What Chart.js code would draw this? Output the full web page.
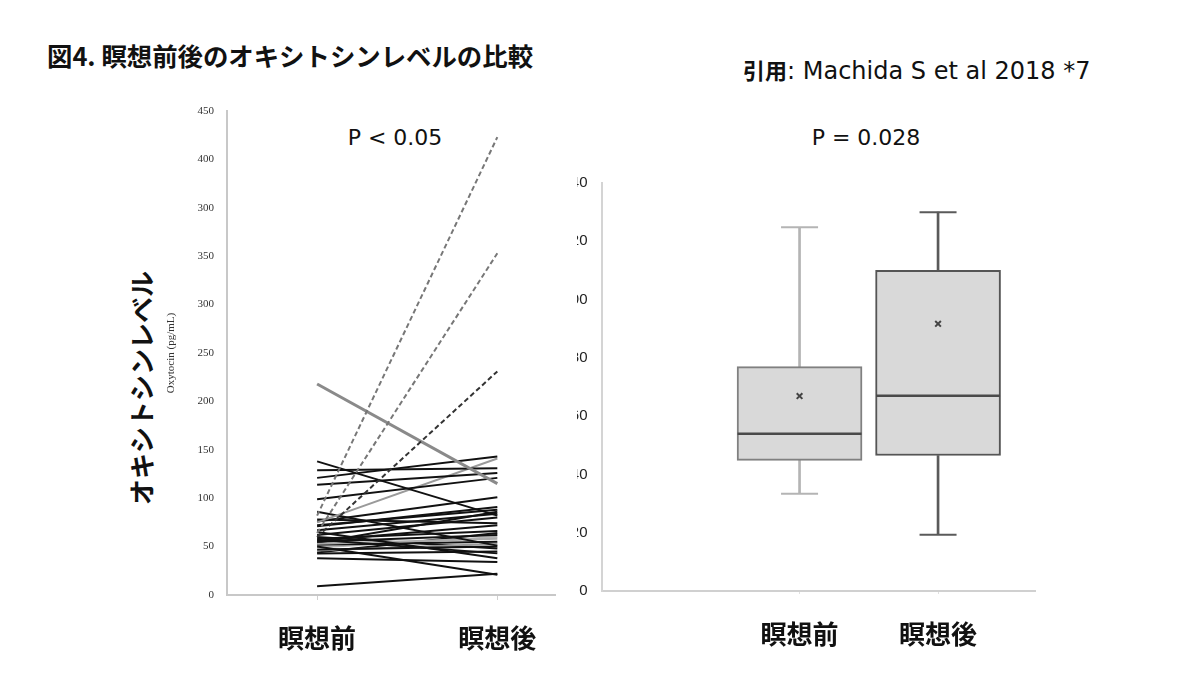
<!DOCTYPE html>
<html>
<head>
<meta charset="utf-8">
<script src="https://cdn.jsdelivr.net/npm/chart.js@4.4.0/dist/chart.umd.min.js"></script>
<style>
  body { margin: 0; background: #fff; width: 1200px; height: 699px; overflow: hidden; position: relative;
         font-family: "Noto Sans CJK JP", "Noto Sans", sans-serif; color: #111; }
  .txt { position: absolute; white-space: nowrap; }
  #left { position: absolute; left: 0; top: 0; }
  #rightWrap { position: absolute; left: 577px; top: 0; width: 623px; height: 699px; overflow: hidden; }
  #right { position: absolute; left: -40px; top: 0; }
</style>
</head>
<body>
<div class="txt" style="left:47px;top:37px;font-size:25.4px;font-weight:bold;">図4. 瞑想前後のオキシトシンレベルの比較</div>
<div class="txt" style="left:743px;top:53px;font-size:24px;font-family:'DejaVu Sans','Noto Sans CJK JP',sans-serif;"><span style="font-family:'Noto Sans CJK JP';font-weight:bold;font-size:22px;">引用</span>: Machida S et al 2018 *7</div>
<div class="txt" style="left:140px;top:388px;font-size:26px;font-weight:bold;transform:translate(-50%,-50%) rotate(-90deg);">オキシトシンレベル</div>
<div class="txt" style="left:395px;top:137px;font-size:22px;font-family:'DejaVu Sans',sans-serif;transform:translate(-50%,-50%);">P &lt; 0.05</div>
<div class="txt" style="left:866px;top:137px;font-size:22px;font-family:'DejaVu Sans',sans-serif;transform:translate(-50%,-50%);">P = 0.028</div>

<canvas id="left" width="570" height="699"></canvas>
<div id="rightWrap"><canvas id="right" width="663" height="699"></canvas></div>

<script>
// categories
const categories = ["瞑想前", "瞑想後"];

// left panel: individual oxytocin values (pg/mL), before / after meditation
const preValues = [82, 64, 60, 218, 138, 121, 129, 114, 99, 75, 86, 76, 71, 67, 65, 57, 50, 9,
                   38, 43, 78, 72, 62, 58, 55, 53, 52, 49, 47, 46, 56, 60, 54, 44];
const postValues = [473, 353, 231, 115, 82, 143, 131, 126, 121, 141, 51, 101, 91, 84, 38, 43, 21, 22,
                    34, 45, 74, 88, 80, 66, 62, 58, 55, 60, 50, 53, 72, 48, 86, 64];
// tick labels as printed on the left axis
const leftTickLabels = ["0", "50", "100", "150", "200", "250", "300", "350", "300", "400", "450"];

// right panel: box plot summary
const whiskerLow = [33.4, 19.3];
const q1Values = [44.8, 46.5];
const medianValues = [54, 67];
const q3Values = [77, 110];
const whiskerHigh = [124.8, 130];
const meanValues = [66.9, 91.7];
const rightTickLabels = ["0", "20", "40", "60", "80", "100", "120", "140"];

// line styles for the left panel
const dashedLines = [0, 1, 2];
const greyLines = { 3: "#8a8a8a", 9: "#9a9a9a", 25: "#aaaaaa", 27: "#b5b5b5", 29: "#9a9a9a" };

const xLabelFont = { family: "'Noto Sans CJK JP', sans-serif", size: 26, weight: "bold" };

const lineSets = preValues.map((pre, i) => ({
  data: [{ x: 1, y: pre }, { x: 2, y: postValues[i] }],
  borderColor: dashedLines.includes(i) ? (i === 2 ? "#333" : "#777") : (greyLines[i] || "#111"),
  borderWidth: i === 3 ? 3 : 2,
  borderDash: dashedLines.includes(i) ? [5, 3] : [],
  pointRadius: 0,
  fill: false
}));

new Chart(document.getElementById("left"), {
  type: "line",
  data: { datasets: lineSets },
  options: {
    responsive: false,
    animation: false,
    layout: { padding: { left: 161, top: 111, right: 15, bottom: 0 } },
    plugins: { legend: { display: false }, tooltip: { enabled: false } },
    scales: {
      x: {
        type: "linear",
        min: 0.5,
        max: 2.32,
        afterBuildTicks: (s) => { s.ticks = [{ value: 1 }, { value: 2 }]; },
        afterFit: (s) => { s.height = 104; s.paddingLeft = 0; s.paddingRight = 0; },
        ticks: { callback: (v) => categories[v - 1], font: xLabelFont, color: "#111", padding: 23 },
        grid: { drawOnChartArea: false, tickLength: 5, color: "#d0d0d0" },
        border: { color: "#c8c8c8", width: 2 }
      },
      y: {
        type: "linear",
        min: 0,
        max: 500,
        afterBuildTicks: (s) => { s.ticks = leftTickLabels.map((t, i) => ({ value: i * 50 })); },
        afterFit: (s) => { s.width = 66; },
        ticks: {
          callback: (v, i) => leftTickLabels[i],
          font: { family: "'Liberation Serif', serif", size: 11 },
          color: "#333",
          padding: 5
        },
        grid: { display: false },
        border: { color: "#c8c8c8", width: 2 },
        title: {
          display: true,
          text: "Oxytocin (pg/mL)",
          font: { family: "'Liberation Serif', serif", size: 11 },
          color: "#333"
        }
      }
    }
  }
});

const xs = [1, 2];
const boxBorder = ["#808080", "#555555"];
const whiskerColor = ["#b4b4b4", "#5a5a5a"];

new Chart(document.getElementById("right"), {
  data: {
    datasets: [
      {
        type: "scatter", order: 1,
        data: xs.map((x, i) => ({ x, y: meanValues[i] })),
        pointStyle: "crossRot", pointRadius: 4, borderColor: "#444", borderWidth: 2
      },
      {
        type: "scatter", order: 2,
        data: xs.map((x, i) => ({ x, y: medianValues[i] })),
        pointStyle: "line", pointRadius: 62, borderColor: "#4a4a4a", borderWidth: 2.5
      },
      {
        type: "scatter", order: 3,
        data: xs.map((x, i) => ({ x, y: whiskerLow[i] })).concat(xs.map((x, i) => ({ x, y: whiskerHigh[i] }))),
        pointStyle: "line", pointRadius: 18.5, borderWidth: 2,
        borderColor: whiskerColor.concat(whiskerColor)
      },
      {
        type: "bar", order: 4, grouped: false,
        data: xs.map((x, i) => ({ x, y: [q1Values[i], q3Values[i]] })),
        barThickness: 125, backgroundColor: "#d9d9d9", borderColor: boxBorder,
        borderWidth: 2, borderSkipped: false
      },
      {
        type: "bar", order: 5, grouped: false,
        data: xs.map((x, i) => ({ x, y: [whiskerLow[i], q1Values[i]] })),
        barThickness: 2, backgroundColor: whiskerColor
      },
      {
        type: "bar", order: 5, grouped: false,
        data: xs.map((x, i) => ({ x, y: [q3Values[i], whiskerHigh[i]] })),
        barThickness: 2, backgroundColor: whiskerColor
      }
    ]
  },
  options: {
    responsive: false,
    animation: false,
    layout: { padding: { left: 0, top: 183, right: 165, bottom: 0 } },
    plugins: { legend: { display: false }, tooltip: { enabled: false } },
    scales: {
      x: {
        type: "linear",
        offset: false,
        min: -0.43,
        max: 2.7,
        afterBuildTicks: (s) => { s.ticks = [{ value: 1 }, { value: 2 }]; },
        afterFit: (s) => { s.height = 108; s.paddingLeft = 0; s.paddingRight = 0; },
        ticks: { callback: (v) => categories[v - 1], font: xLabelFont, color: "#111", padding: 25 },
        grid: { offset: false, drawOnChartArea: false, tickLength: 3, color: "#e0e0e0" },
        border: { color: "#d0d0d0", width: 2 }
      },
      y: {
        type: "linear",
        min: 0,
        max: 140,
        afterBuildTicks: (s) => { s.ticks = rightTickLabels.map((t, i) => ({ value: i * 20 })); },
        afterFit: (s) => { s.width = 49; },
        ticks: {
          callback: (v, i) => rightTickLabels[i],
          font: { family: "'Liberation Sans', sans-serif", size: 15 },
          color: "#222",
          padding: 6
        },
        grid: { display: false },
        border: { color: "#d4d4d4", width: 2 }
      }
    }
  }
});
</script>
</body>
</html>
